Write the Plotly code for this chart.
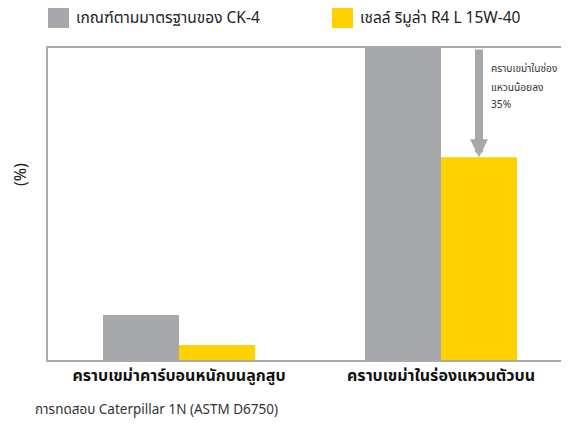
import plotly.graph_objects as go

categories = ["คราบเขม่าคาร์บอนหนักบนลูกสูบ", "คราบเขม่าในร่องแหวนตัวบน"]
series_names = ["เกณฑ์ตามมาตรฐานของ CK-4", "เชลล์ ริมูล่า R4 L 15W-40"]
ck4_limit = [14.4, 100.0]
rimula_r4 = [4.8, 65.0]
reduction_lines = ["คราบเขม่าในช่อง", "แหวนน้อยลง", "35%"]
y_title = "(%)"
footer = "การทดสอบ Caterpillar 1N (ASTM D6750)"

GRAY = "#A7A8AB"
YELLOW = "#FFD100"
FONT = "Noto Sans Thai, Noto Sans, Tahoma, DejaVu Sans, sans-serif"

W, H = 564, 417
ML, MT, MB = 40, 40, 65
PW = W - ML
PH = H - MT - MB

fig = go.Figure()
fig.add_trace(go.Bar(x=[0, 1], y=ck4_limit, name=series_names[0], marker_color=GRAY,
                     marker_line_width=0, showlegend=False))
fig.add_trace(go.Bar(x=[0, 1], y=rimula_r4, name=series_names[1], marker_color=YELLOW,
                     marker_line_width=0, showlegend=False))

bargap = 0.42
bar_w = (1 - bargap) / 2
arrow_x = 1 + bar_w / 2

# arrow from gray top down to yellow top over yellow bar of group 2
fig.add_annotation(x=arrow_x, y=rimula_r4[1], ax=arrow_x, ay=ck4_limit[1],
                   xref="x", yref="y", axref="x", ayref="y", text="",
                   showarrow=True, arrowhead=2, arrowwidth=8, arrowsize=0.45,
                   arrowcolor=GRAY, standoff=0)
line_offsets = [21, 40, 57]
for txt, off in zip(reduction_lines, line_offsets):
    fig.add_annotation(x=arrow_x, y=ck4_limit[1], xref="x", yref="y",
                       text=txt, showarrow=False, xanchor="left", yanchor="middle",
                       xshift=10, yshift=-off, align="left",
                       font=dict(size=10.2, color="#333333", family=FONT))

# custom legend
leg_x = [0.0, 284 / PW]
leg_cols = [GRAY, YELLOW]
for lx, col, nm in zip(leg_x, leg_cols, series_names):
    fig.add_shape(type="rect", xref="paper", yref="paper", x0=lx, x1=lx + 21 / PW,
                  y0=1 + 20 / PH, y1=1 + 41 / PH, fillcolor=col, line_width=0)
    fig.add_annotation(xref="paper", yref="paper", x=lx + 26 / PW, y=1 + 29 / PH,
                       text=nm, showarrow=False, xanchor="left", yanchor="middle",
                       font=dict(size=15.5, color="#222222", family=FONT))

# y-axis title placed as in the reference (above the vertical centre)
fig.add_annotation(xref="paper", yref="paper", x=-27 / PW, y=185 / PH, text=y_title,
                   textangle=-90, showarrow=False, xanchor="center", yanchor="middle",
                   font=dict(size=16, color="#222222", family=FONT))

fig.add_annotation(xref="paper", yref="paper", x=-15 / PW, y=-50 / PH, text=footer,
                   showarrow=False, xanchor="left", yanchor="middle",
                   font=dict(size=13.5, color="#333333", family=FONT))

fig.update_layout(
    width=W, height=H,
    margin=dict(l=ML, r=0, t=MT, b=MB),
    plot_bgcolor="white", paper_bgcolor="white",
    barmode="group", bargap=bargap, bargroupgap=0,
    font=dict(family=FONT),
)
fig.update_xaxes(range=[-0.5, 1.5], tickvals=[0, 1], ticktext=categories,
                 showline=True, linecolor="#AAAAAA", linewidth=1.5, mirror=True,
                 showgrid=False, ticks="", zeroline=False,
                 tickfont=dict(size=16, color="#111111", family=FONT, weight="bold"))
fig.update_yaxes(range=[0, 100], showticklabels=False, showgrid=False, zeroline=False,
                 showline=True, linecolor="#AAAAAA", linewidth=1.5, ticks="")

fig.write_html("out.html")
